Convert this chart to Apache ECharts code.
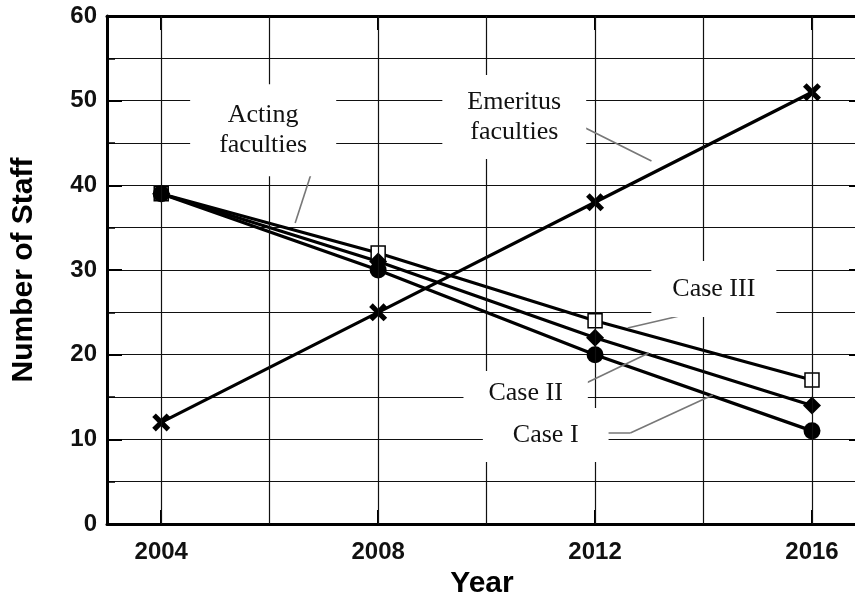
<!DOCTYPE html>
<html>
<head>
<meta charset="utf-8">
<script src="https://cdn.jsdelivr.net/npm/echarts@6.0.0/dist/echarts.min.js"></script>
<style>
  html, body { margin: 0; padding: 0; background: #fff; }
  #chart { width: 855px; height: 598px; }
</style>
</head>
<body>
<div id="chart"></div>
<script>
  // data
  const years = [2004, 2008, 2012, 2016];
  const emeritus = [12, 25, 38, 51];
  const case3 = [39, 32, 24, 17];
  const case2 = [39, 31, 22, 14];
  const case1 = [39, 30, 20, 11];
  const yearLabels = [2004, 2008, 2012, 2016];
  const gridYears = [2004, 2006, 2008, 2010, 2012, 2014, 2016];

  // annotation texts (data coords) and their leader lines
  const notes = [
    { text: 'Acting\nfaculties', at: [2005.88, 46.5], pad: [16, 29] },
    { text: 'Emeritus\nfaculties', at: [2010.51, 48.07], pad: [12, 25] },
    { text: 'Case III', at: [2014.19, 27.75], pad: [13, 21] },
    { text: 'Case II', at: [2010.72, 15.47], pad: [7, 25] },
    { text: 'Case I', at: [2011.09, 10.51], pad: [12, 30] }
  ];
  const leaders = [
    [[2004.90, 42.87], [2006.84, 42.87]],
    [[2006.84, 42.87], [2006.47, 35.55]],
    [[2011.49, 47.83], [2013.04, 42.87]],
    [[2014.19, 25.51], [2012.60, 23.15]],
    [[2011.49, 15.59], [2012.99, 20.20]],
    [[2011.88, 10.75], [2012.65, 10.75]],
    [[2012.65, 10.75], [2014.17, 15.24]]
  ];

  const pair = (xs, ys) => xs.map((x, i) => [x, ys[i]]);
  const crossPath = 'path://M2,0 L5,3 L8,0 L10,2 L7,5 L10,8 L8,10 L5,7 L2,10 L0,8 L3,5 L0,2 Z';
  const sans = 'Liberation Sans';
  const serif = 'Liberation Serif';

  function dataSeries(name, ys, symbol, size, fill, border) {
    return {
      name: name,
      type: 'line',
      z: 4,
      data: pair(years, ys),
      symbol: symbol,
      symbolSize: size,
      showSymbol: true,
      lineStyle: { color: '#000', width: 3.2 },
      itemStyle: { color: fill, borderColor: '#000', borderWidth: border },
      emphasis: { disabled: true }
    };
  }

  const chart = echarts.init(document.getElementById('chart'));
  chart.setOption({
    animation: false,
    backgroundColor: '#fff',
    grid: { left: 107, top: 16, right: -2, bottom: 74, outerBoundsMode: 'none', containLabel: false },
    xAxis: [
      {
        type: 'value',
        min: 2003,
        max: 2016.83,
        name: 'Year',
        nameLocation: 'middle',
        nameGap: 42,
        nameTextStyle: { fontFamily: sans, fontWeight: 'bold', fontSize: 30, color: '#000' },
        axisLine: { show: true, onZero: false, lineStyle: { color: '#000', width: 3 } },
        axisTick: { show: true, inside: true, length: 14, customValues: yearLabels, lineStyle: { color: '#000', width: 2 } },
        axisLabel: {
          customValues: yearLabels,
          formatter: v => String(v),
          margin: 16, fontFamily: sans, fontWeight: 'bold', fontSize: 24, color: '#111'
        },
        splitLine: { show: false }
      },
      {
        type: 'value',
        position: 'top',
        min: 2003,
        max: 2016.83,
        axisLine: { show: true, onZero: false, lineStyle: { color: '#000', width: 3 } },
        axisTick: { show: true, inside: true, length: 14, customValues: yearLabels, lineStyle: { color: '#000', width: 2 } },
        axisLabel: { show: false },
        splitLine: { show: false }
      }
    ],
    yAxis: [
      {
        type: 'value',
        min: 0,
        max: 60,
        interval: 10,
        name: 'Number of Staff',
        nameLocation: 'middle',
        nameRotate: 90,
        nameGap: 68,
        nameTextStyle: { fontFamily: sans, fontWeight: 'bold', fontSize: 30, color: '#000' },
        axisLine: { show: true, onZero: false, lineStyle: { color: '#000', width: 3 } },
        axisTick: { show: true, inside: true, length: 15, lineStyle: { color: '#000', width: 2 } },
        minorTick: { show: true, splitNumber: 2, length: 8, lineStyle: { color: '#000', width: 1.5 } },
        axisLabel: { margin: 10, fontFamily: sans, fontWeight: 'bold', fontSize: 24, color: '#111' },
        splitLine: { show: true, lineStyle: { color: '#111', width: 1.2 } },
        minorSplitLine: { show: true, lineStyle: { color: '#111', width: 1.2 } }
      },
      {
        type: 'value',
        position: 'right',
        min: 0,
        max: 60,
        interval: 10,
        axisLine: { show: true, onZero: false, lineStyle: { color: '#000', width: 3 } },
        axisTick: { show: true, inside: true, length: 8, lineStyle: { color: '#000', width: 2 } },
        axisLabel: { show: false },
        splitLine: { show: false }
      }
    ],
    series: [
      // vertical grid lines
      {
        type: 'line',
        z: 1,
        data: [],
        silent: true,
        markLine: {
          silent: true,
          symbol: ['none', 'none'],
          label: { show: false },
          lineStyle: { color: '#111', width: 1.2, type: 'solid' },
          emphasis: { disabled: true },
          data: gridYears.map(v => ({ xAxis: v }))
        }
      },
      // annotation boxes (white, hide grid behind)
      {
        type: 'line',
        z: 2,
        data: [],
        silent: true,
        markPoint: {
          silent: true,
          symbol: 'circle',
          symbolSize: 0.1,
          itemStyle: { color: 'rgba(0,0,0,0)' },
          data: notes.map(n => ({
            coord: n.at,
            label: {
              show: true,
              position: 'inside',
              formatter: n.text,
              fontFamily: serif,
              fontSize: 26,
              lineHeight: 30,
              color: '#111',
              align: 'center',
              verticalAlign: 'middle',
              backgroundColor: '#fff',
              padding: n.pad
            }
          }))
        }
      },
      // leader lines
      {
        type: 'line',
        z: 3,
        data: [],
        silent: true,
        markLine: {
          silent: true,
          symbol: ['none', 'none'],
          label: { show: false },
          lineStyle: { color: '#777', width: 1.6, type: 'solid' },
          emphasis: { disabled: true },
          data: leaders.map(seg => [{ coord: seg[0] }, { coord: seg[1] }])
        }
      },
      dataSeries('Case III', case3, 'rect', 14, '#fff', 1.5),
      dataSeries('Case II', case2, 'diamond', 18, '#000', 0),
      dataSeries('Case I', case1, 'circle', 17, '#000', 0),
      dataSeries('Emeritus faculties', emeritus, crossPath, 18, '#000', 0)
    ]
  });
</script>
</body>
</html>
